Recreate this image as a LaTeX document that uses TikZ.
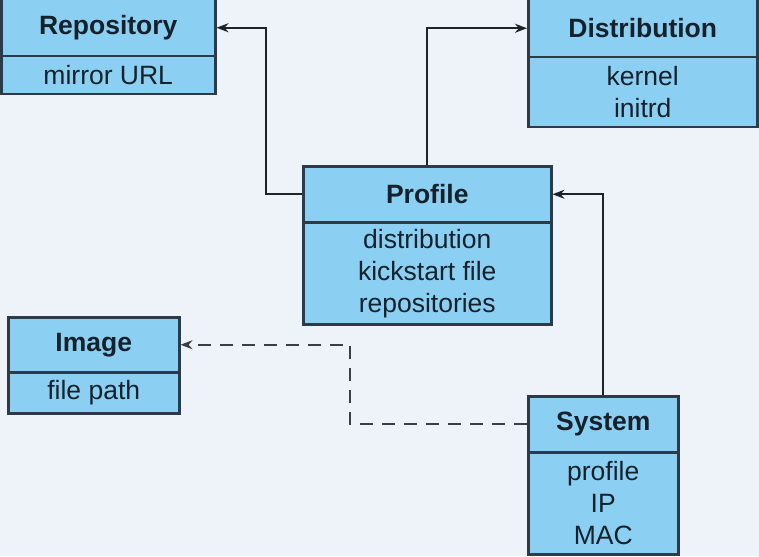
\documentclass[tikz,border=0pt]{standalone}
\usepackage{fontspec}
\setmainfont{Liberation Sans}
\usetikzlibrary{arrows.meta}
\definecolor{bg}{HTML}{EEF3FA}
\definecolor{boxfill}{HTML}{8BD0F2}
\definecolor{boxline}{HTML}{2E3B46}
\definecolor{txt}{HTML}{16212B}
\definecolor{conn}{HTML}{1E2328}
\definecolor{dconn}{HTML}{3A3F44}
\tikzset{
  hdr/.style={draw=boxline, fill=boxfill, line width=2.5pt, inner sep=0pt, text=txt,
    font=\fontsize{26.5}{30}\selectfont\bfseries, anchor=north west},
  bdy/.style={draw=boxline, fill=boxfill, line width=2.5pt, inner sep=0pt, text=txt,
    font=\fontsize{26.5}{32}\selectfont, align=center, anchor=north west},
  arr/.style={draw=conn, line width=2pt, -{Stealth[length=12pt,width=9pt]}},
  darr/.style={arr, draw=dconn, dash pattern=on 13pt off 9pt}
}
\begin{document}
\begin{tikzpicture}[x=1pt,y=-1pt]
\fill[bg] (0,0) rectangle (759,556);
\useasboundingbox (0,0) rectangle (759,556);
% Repository
\node[hdr, minimum width=214pt, minimum height=57pt] (repoH) at (0,-2) {Repository};
\node[bdy, minimum width=214pt, minimum height=38pt] (repoB) at (0,55) {mirror URL};
% Distribution
\node[hdr, minimum width=229pt, minimum height=58pt] (distH) at (527,-2) {Distribution};
\node[bdy, minimum width=229pt, minimum height=70pt] (distB) at (527,56) {kernel\\initrd};
% Profile
\node[hdr, minimum width=248pt, minimum height=56pt] (profH) at (302,165) {Profile};
\node[bdy, minimum width=248pt, minimum height=102pt] (profB) at (302,221) {distribution\\kickstart file\\repositories};
% Image
\node[hdr, minimum width=171pt, minimum height=55pt] (imgH) at (7,316) {Image};
\node[bdy, minimum width=171pt, minimum height=41pt] (imgB) at (7,371) {file path};
% System
\node[hdr, minimum width=150pt, minimum height=56pt] (sysH) at (527,395) {System};
\node[bdy, minimum width=150pt, minimum height=102pt] (sysB) at (527,451) {profile\\IP\\MAC};
% connectors
\draw[arr] (profH.west) -- ++(-36,0) coordinate (c1) |- (repoH.east);
\draw[arr] (profH.north) |- (distH.west);
\draw[arr] (sysH.north) |- (profH.east);
\draw[darr] (sysH.west) -- ++(-177,0) coordinate (c2) |- (imgH.east);
\end{tikzpicture}
\end{document}
